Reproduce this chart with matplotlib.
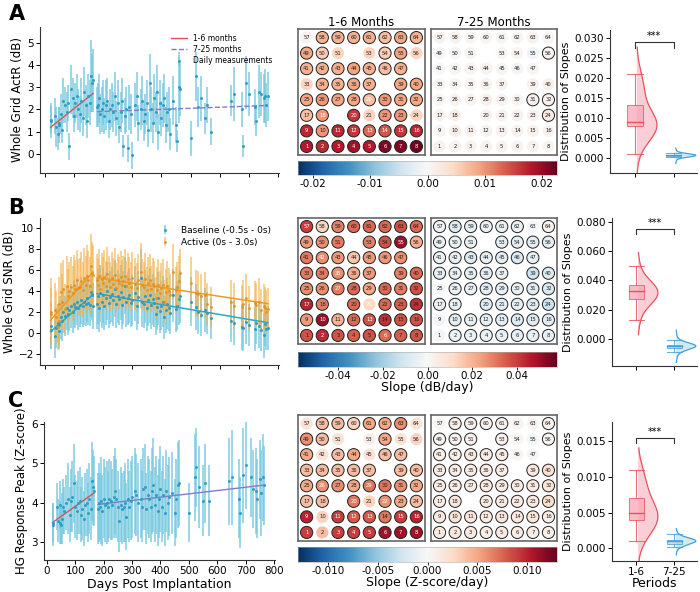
import numpy as np
import matplotlib
matplotlib.use("Agg")
import matplotlib.pyplot as plt
from matplotlib.patches import Circle, Rectangle
from matplotlib import cm, colors

# ---------------- data: daily measurements ----------------
days = [20, 22, 35, 40, 45, 48, 50, 55, 58, 62, 68, 75, 80, 85, 90, 96, 100, 105, 110, 115,
        120, 125, 130, 135, 140, 145, 150, 155, 160, 163, 166,
        180, 183, 187, 190, 195, 200, 205, 210, 215, 220, 225, 230, 235, 240, 245, 250, 255, 260,
        265, 270, 275, 280, 285, 290, 295, 300, 310, 315, 320, 330, 335, 340, 345, 350, 355, 360,
        365, 370, 375, 380, 385, 390, 395, 400, 405, 410, 415, 420, 425, 430, 440, 450, 455, 460, 465,
        500, 520, 525, 535, 550, 555, 570,
        640, 650, 675, 680, 690, 700, 720, 725, 735, 740, 750, 755, 760, 765]

actr_mean = [1.5, 1.55, 1.7, 1.2, 0.9, 1.4, 1.3, 1.8, 1.1, 2.4, 2.2, 1.9, 2.3, 0.35, 2.9, 2.5, 1.7, 2.3, 2.6, 2.0,
             1.8, 2.4, 1.6, 2.8, 2.2, 1.5, 2.6, 2.3, 3.5, 3.2, 3.3,
             2.1, 2.2, 2.5, 1.8, 2.0, 2.3, 1.7, 2.2, 2.4, 1.5, 2.0, 2.2, 1.9, 2.6, 1.6, 2.3, 1.2, 1.9, 2.4, 0.35,
             1.7, 2.0, 0.25, 2.1, 1.8, -0.05, 2.2, 2.6, 1.4, 2.0, 2.4, 1.5, 1.8, 2.3, 1.1, 3.2, 2.0, 1.4, 2.5, 1.9,
             2.8, 1.0, 2.3, 1.6, 2.2, 2.5, 1.3, 1.9, 2.0, 0.9, 2.4, 1.3, 0.6, 3.0, 2.9,
             0.7, 3.5, 2.1, 2.5, 1.6, 2.2, 1.0,
             2.4, 2.7, 2.0, 0.35, 3.2, 2.7, 2.1, 1.5, 2.8, 2.7, 2.5, 2.6, 2.2, 2.6]
actr_err = [0.8, 0.6, 0.8, 0.9, 0.7, 0.7, 0.8, 0.9, 0.6, 1.0, 0.8, 0.9, 0.8, 0.6, 1.1, 0.9, 0.7, 0.9, 1.0, 0.9,
            0.8, 1.0, 0.8, 1.1, 0.9, 0.8, 1.0, 1.0, 1.6, 1.3, 1.4,
            0.9, 1.0, 1.1, 0.9, 1.0, 1.0, 0.8, 1.1, 1.0, 0.8, 0.9, 1.0, 0.9, 1.1, 0.8, 1.0, 0.7, 0.9, 1.0, 0.5,
            0.8, 1.0, 0.6, 1.0, 0.9, 0.6, 1.0, 1.1, 0.8, 0.9, 1.1, 0.9, 0.9, 1.0, 0.8, 1.3, 1.0, 0.9, 1.1, 0.9,
            1.2, 0.8, 1.0, 0.8, 1.0, 1.1, 0.8, 0.9, 1.0, 0.7, 1.1, 0.8, 0.5, 1.6, 1.2,
            0.8, 1.1, 0.9, 1.0, 0.7, 0.8, 0.6,
            0.7, 1.2, 0.8, 0.5, 1.2, 1.0, 0.8, 0.7, 1.2, 1.0, 1.1, 1.2, 1.0, 1.1]

snr_base_mean = [0.7, 0.3, -0.3, 0.5, 1.0, 0.2, 0.8, 1.5, 1.2, 2.0, 1.6, 2.4, 1.8, 2.2, 2.6, 2.0, 2.8, 2.5, 3.0, 2.4,
                 2.7, 3.1, 2.6, 3.0, 2.8, 3.3, 2.9, 2.7, 3.9, 3.6, 2.6,
                 2.8, 3.5, 2.4, 3.8, 3.0, 3.6, 2.6, 3.3, 4.0, 2.9, 3.4, 3.7, 3.1, 4.2, 2.8, 3.5, 3.2, 3.9, 2.7, 3.4,
                 4.5, 3.0, 3.3, 3.6, 2.9, 3.1, 3.8, 2.6, 3.4, 5.2, 3.0, 2.8, 3.5, 2.4, 3.1, 3.6, 2.7, 3.2, 2.9, 1.8,
                 2.5, 3.3, 2.1, 2.6, 3.0, 1.5, 2.2, 2.8, 2.4, 1.9, 3.6, 2.3, 2.6, 3.2, 3.5,
                 3.0, 2.5, 2.0, 1.7, 2.2, 1.9, 1.4,
                 1.2, 1.0, 0.6, 0.5, 1.1, 0.8, 0.4, 1.0, 0.7, 0.3, -0.2, 0.9, 0.4, 0.5]
snr_base_err = [2.2, 1.8, 2.0, 1.9, 1.8, 1.7, 1.8, 2.0, 1.9, 2.0, 1.9, 2.1, 2.0, 2.0, 2.1, 2.0, 2.2, 2.0, 2.2, 2.1,
                2.1, 2.2, 2.0, 2.2, 2.1, 2.2, 2.1, 2.0, 2.4, 2.3, 2.2,
                2.4, 2.6, 2.3, 2.7, 2.5, 2.6, 2.3, 2.5, 2.7, 2.4, 2.5, 2.6, 2.4, 2.7, 2.3, 2.5, 2.4, 2.6, 2.3, 2.5,
                2.7, 2.4, 2.5, 2.6, 2.3, 2.4, 2.6, 2.3, 2.5, 2.8, 2.4, 2.3, 2.5, 2.2, 2.4, 2.6, 2.3, 2.4, 2.3, 2.0,
                2.2, 2.5, 2.1, 2.3, 2.4, 2.0, 2.2, 2.4, 2.2, 2.0, 2.5, 2.2, 2.3, 2.4, 2.5,
                2.3, 2.2, 2.1, 2.0, 2.1, 2.0, 1.9,
                2.0, 2.1, 2.2, 2.2, 2.1, 2.0, 2.1, 2.0, 2.1, 2.0, 2.1, 2.1, 2.0, 2.1]
snr_act_mean = [2.0, 1.8, 2.2, 1.5, 0.6, 2.8, 1.2, 3.9, 3.0, 4.2, 2.3, 4.5, 3.5, 4.0, 4.4, 3.8, 4.6, 4.2, 5.0, 4.3,
                4.4, 4.9, 4.1, 5.2, 4.6, 5.4, 5.0, 4.5, 6.4, 5.7, 5.5,
                5.0, 4.6, 5.4, 4.2, 5.1, 4.8, 5.3, 4.5, 5.6, 4.9, 4.4, 5.2, 4.7, 5.5, 4.3, 5.0, 4.8, 5.3, 4.6, 4.9,
                5.4, 4.5, 5.1, 4.8, 4.4, 5.2, 4.7, 4.3, 5.0, 5.8, 4.6, 4.4, 5.1, 4.1, 4.8, 5.0, 4.2, 4.7, 4.5, 3.3,
                4.1, 4.6, 3.8, 4.3, 4.6, 3.0, 3.9, 4.5, 4.0, 3.6, 5.8, 4.1, 4.4, 4.9, 5.7,
                4.8, 3.8, 3.7, 3.5, 3.6, 2.8, 2.5,
                3.0, 2.6, 2.5, 2.8, 3.3, 2.4, 2.9, 2.7, 3.0, 2.2, 2.6, 2.4, 2.0, 2.3]
snr_act_err = [3.2, 2.5, 2.6, 2.5, 2.2, 2.5, 2.3, 2.7, 2.6, 2.7, 2.4, 2.8, 2.6, 2.7, 2.8, 2.6, 2.8, 2.7, 2.9, 2.7,
               2.7, 2.8, 2.6, 2.9, 2.7, 2.9, 2.8, 2.7, 3.0, 2.9, 2.8,
               2.5, 2.4, 2.6, 2.3, 2.5, 2.4, 2.6, 2.3, 2.6, 2.4, 2.3, 2.5, 2.4, 2.6, 2.3, 2.5, 2.4, 2.5, 2.3, 2.4,
               2.6, 2.3, 2.5, 2.4, 2.3, 2.5, 2.4, 2.3, 2.5, 2.7, 2.4, 2.3, 2.5, 2.2, 2.4, 2.5, 2.2, 2.4, 2.3, 2.0,
               2.2, 2.4, 2.1, 2.3, 2.4, 2.0, 2.2, 2.3, 2.2, 2.0, 2.6, 2.2, 2.3, 2.4, 2.3,
               2.4, 2.2, 2.2, 2.1, 2.2, 2.0, 1.9,
               2.0, 2.2, 2.1, 2.2, 2.3, 2.1, 2.0, 2.1, 2.2, 2.0, 2.1, 2.0, 2.1, 2.0]

hg_mean = [3.5, 3.45, 3.9, 3.55, 3.95, 3.5, 3.45, 3.6, 3.9, 3.8, 4.0, 4.1, 3.7, 4.05, 4.15, 4.5, 3.9, 3.8, 4.0, 4.05,
           3.7, 3.85, 3.6, 3.95, 4.0, 3.75, 4.1, 3.85, 4.55, 4.4, 4.3,
           3.85, 4.0, 3.9, 4.05, 3.8, 4.1, 3.95, 4.0, 3.9, 4.1, 4.05, 3.95, 4.15, 4.3, 4.1, 3.9, 3.55, 3.95, 3.85, 3.9,
           4.0, 3.65, 4.1, 3.9, 4.05, 4.15, 4.3, 4.2, 4.0, 4.1, 3.9, 4.35, 4.4, 3.85, 4.2, 4.1, 3.9, 4.3, 4.45, 3.95,
           4.2, 3.8, 4.1, 4.35, 3.9, 4.2, 3.75, 4.3, 4.0, 4.15, 4.25, 3.75, 4.1, 4.45, 4.5,
           3.75, 4.65, 4.9, 4.4, 4.05, 4.5, 4.05,
           4.55, 4.65, 4.1, 3.75, 4.7, 4.95, 4.65, 4.35, 4.3, 4.1, 4.6, 4.25, 4.65, 4.45]
hg_err = [0.5, 0.55, 0.6, 0.55, 0.6, 0.55, 0.5, 0.65, 0.7, 0.6, 0.7, 0.9, 0.7, 0.8, 0.9, 1.0, 0.8, 0.75, 0.8, 0.85,
          0.7, 0.8, 0.7, 0.8, 0.85, 0.75, 0.9, 0.8, 1.0, 0.95, 0.9,
          0.9, 1.0, 0.85, 1.1, 0.9, 1.0, 0.95, 1.05, 0.9, 1.0, 1.0, 0.9, 1.05, 1.1, 1.0, 0.9, 0.8, 0.95, 0.9, 0.9,
          1.0, 0.85, 1.0, 0.9, 1.0, 1.05, 1.1, 1.05, 1.0, 1.0, 0.9, 1.05, 1.1, 0.9, 1.0, 1.0, 0.9, 1.1, 1.2, 0.95,
          1.0, 0.9, 1.0, 1.1, 0.9, 1.0, 0.85, 1.05, 0.95, 1.0, 1.05, 0.85, 1.0, 1.1, 1.1,
          0.75, 1.1, 1.0, 1.05, 0.9, 1.0, 0.9,
          1.1, 1.2, 1.0, 0.9, 1.2, 1.1, 1.0, 1.0, 1.1, 1.0, 1.0, 1.1, 1.1, 1.0]

# regression line endpoints (days, values)
fit_days_early = [20, 166]
fit_days_late = [180, 765]
actr_fit_early = [1.2, 2.72]
actr_fit_late = [1.9, 2.18]
snr_base_fit_early = [0.15, 3.68]
snr_base_fit_late = [3.75, 1.0]
snr_act_fit_early = [1.25, 5.8]
snr_act_fit_late = [5.25, 2.8]
hg_fit_early = [3.5, 4.25]
hg_fit_late = [3.96, 4.45]

# ---------------- data: electrode slopes (electrodes 1..64, None = missing) ----------------
actr_slope_early = [0.018, 0.017, 0.018, 0.019, 0.018, 0.021, 0.021, 0.022,
                    0.017, 0.010, 0.017, 0.016, 0.013, 0.014, 0.016, 0.017,
                    0.007, 0.010, None, 0.016, 0.005, 0.010, 0.010, 0.005,
                    0.009, 0.010, 0.009, 0.009, 0.007, 0.010, 0.009, 0.009,
                    0.005, 0.008, 0.008, 0.009, 0.008, None, 0.009, 0.009,
                    0.008, 0.008, 0.008, 0.009, 0.008, 0.007, 0.008, None,
                    0.009, 0.006, 0.005, None, 0.005, 0.006, 0.009, 0.005,
                    0.001, 0.008, 0.008, 0.008, 0.008, 0.007, 0.009, 0.008]
actr_slope_late = [0.0008, 0.0010, 0.0008, 0.0008, 0.0008, 0.0008, 0.0008, 0.0005,
                   0.0005, 0.0015, 0.0010, 0.0008, 0.0010, 0.0008, 0.0012, 0.0008,
                   0.0008, 0.0015, None, 0.0008, 0.0008, 0.0008, 0.0010, 0.0020,
                   0.0005, 0.0008, 0.0008, 0.0012, 0.0008, 0.0005, 0.0008, 0.0010,
                   0.0005, 0.0005, 0.0005, 0.0008, 0.0008, None, 0.0010, 0.0012,
                   -0.0003, 0.0002, 0.0005, 0.0008, 0.0003, 0.0003, 0.0002, None,
                   0.0003, 0.0003, 0.0002, None, 0.0003, 0.0005, -0.0008, 0.0005,
                   0.0008, 0.0010, 0.0005, 0.0003, 0.0003, 0.0003, 0.0008, 0.0005]
snr_slope_early = [0.037, 0.043, 0.037, 0.035, 0.037, 0.033, 0.035, 0.037,
                   0.025, 0.050, 0.020, 0.033, 0.037, 0.042, 0.037, 0.037,
                   0.044, 0.030, None, 0.033, 0.012, 0.033, 0.035, 0.042,
                   0.027, 0.027, 0.030, 0.033, 0.023, 0.033, 0.030, 0.037,
                   0.030, 0.030, 0.027, 0.022, 0.025, None, 0.029, 0.033,
                   0.030, 0.027, 0.025, 0.016, 0.025, 0.025, 0.027, None,
                   0.025, 0.027, 0.030, None, 0.029, 0.037, 0.050, 0.021,
                   0.040, 0.013, 0.029, 0.033, 0.033, 0.033, 0.037, 0.033]
snr_slope_late = [-0.001, -0.004, -0.004, -0.004, -0.004, -0.005, -0.005, -0.005,
                  -0.001, -0.006, -0.004, -0.005, -0.006, -0.008, -0.007, -0.006,
                  -0.004, -0.004, None, -0.007, -0.006, -0.005, -0.007, -0.013,
                  -0.001, -0.004, -0.004, -0.006, -0.005, -0.004, -0.007, -0.009,
                  -0.005, -0.005, -0.005, -0.006, -0.004, None, -0.012, -0.008,
                  -0.003, -0.005, -0.008, -0.005, -0.006, -0.009, -0.005, None,
                  -0.003, -0.004, -0.004, None, -0.005, -0.006, -0.006, -0.005,
                  -0.003, -0.008, -0.005, -0.004, -0.004, -0.004, -0.001, 0.003]
hg_slope_early = [0.009, 0.004, 0.009, 0.009, 0.009, 0.011, 0.011, 0.011,
                  0.010, 0.003, 0.009, 0.008, 0.008, 0.007, 0.009, 0.010,
                  0.004, 0.004, None, 0.007, 0.003, 0.006, 0.005, 0.004,
                  0.005, 0.006, 0.006, 0.005, 0.007, 0.007, 0.006, 0.005,
                  0.004, 0.004, 0.004, 0.004, 0.004, None, 0.004, 0.004,
                  0.005, 0.002, 0.004, 0.005, 0.002, 0.004, 0.004, None,
                  0.006, 0.004, 0.002, None, 0.001, 0.005, 0.002, 0.003,
                  0.002, 0.004, 0.004, 0.003, 0.005, 0.005, 0.006, 0.002]
hg_slope_late = [0.0012, 0.0015, 0.0012, 0.0010, 0.0012, 0.0010, 0.0010, 0.0010,
                 0.0012, 0.0018, 0.0015, 0.0012, 0.0015, 0.0012, 0.0015, 0.0010,
                 0.0010, 0.0015, None, 0.0010, 0.0010, 0.0010, 0.0012, 0.0022,
                 0.0010, 0.0010, 0.0010, 0.0012, 0.0010, 0.0010, 0.0012, 0.0015,
                 0.0010, 0.0010, 0.0010, 0.0010, 0.0008, None, 0.0012, 0.0020,
                 0.0008, 0.0010, 0.0012, 0.0010, 0.0008, 0.0003, 0.0002, None,
                 0.0005, 0.0006, 0.0006, None, 0.0006, 0.0003, -0.0004, 0.0003,
                 0.0003, 0.0008, 0.0006, 0.0005, 0.0006, 0.0004, 0.0004, 0.0006]

# electrodes drawn without outline (non-significant) / with white labels
actr_early_unmarked = [57, 51, 53, 56, 33, 21, 24]
actr_late_marked = [56, 31, 32, 24]
snr_early_unmarked = [21]
snr_late_unmarked = [63, 25, 9, 1]
hg_early_unmarked = [57, 64, 51, 53, 55, 56, 42, 45, 21, 10, 2]
hg_late_unmarked = [57, 62, 63, 54, 55, 46, 47]
actr_white = [1, 2, 3, 4, 5, 6, 7, 8, 9, 11, 12, 13, 14, 15, 16, 18, 20, 29]
snr_white = [57, 55, 42, 35, 27, 17, 10, 13, 2, 21, 6]
hg_white = [1, 3, 4, 5, 6, 7, 8, 9, 11, 12, 13, 15, 16, 20, 22, 26, 29]

period_labels = ["1-6", "7-25"]
cbar_limits = [0.0226, 0.0578, 0.013]

# ---------------- figure ----------------
fig = plt.figure(figsize=(7, 5.92), dpi=100)
W, H = 700.0, 592.0


def fax(x0, y0, x1, y1):
    return fig.add_axes([x0 / W, 1 - y1 / H, (x1 - x0) / W, (y1 - y0) / H])


BAR = "#74c7de"
DOT = "#2a9ec4"
ORANGE_BAR = "#f3b04a"
ORANGE_DOT = "#e8901a"
RED = "#e0505a"
PURPLE = "#8878c8"


def style_ts(ax):
    for s in ["top", "right"]:
        ax.spines[s].set_visible(False)
    for s in ["left", "bottom"]:
        ax.spines[s].set_color("#333333")
        ax.spines[s].set_linewidth(0.8)
    ax.tick_params(labelsize=7.5, length=3, width=0.7, pad=1.5)
    ax.set_xticks(range(0, 801, 100))


# --- Panel A time series
axA = fax(40, 27, 279, 173)
axA.errorbar(days, actr_mean, yerr=actr_err, fmt="o", ms=1.2, color=DOT, ecolor=BAR,
             elinewidth=1.1, alpha=0.9, capsize=0, label="Daily measurements")
axA.plot(fit_days_early, actr_fit_early, color=RED, lw=1.0, label="1-6 months")
axA.plot(fit_days_late, actr_fit_late, color=PURPLE, lw=1.0, ls="--", label="7-25 months")
axA.set_xlim(-16, 803)
axA.set_ylim(-0.85, 5.7)
axA.set_yticks(range(0, 6))
style_ts(axA)
axA.set_xticklabels([])
axA.set_ylabel("Whole Grid ActR (dB)", fontsize=8.5, labelpad=2)
h, l = axA.get_legend_handles_labels()
order = [l.index("1-6 months"), l.index("7-25 months"), l.index("Daily measurements")]
axA.legend([h[i] for i in order], [l[i] for i in order], loc="upper right", frameon=False,
           fontsize=5.5, bbox_to_anchor=(1.0, 1.0), handlelength=2.0, labelspacing=0.3)

# --- Panel B time series
axB = fax(40, 218, 279, 365)
axB.errorbar(days, snr_base_mean, yerr=snr_base_err, fmt="o", ms=1.2, color=DOT, ecolor=BAR,
             elinewidth=1.1, alpha=0.9, capsize=0, label="Baseline (-0.5s - 0s)")
axB.errorbar(days, snr_act_mean, yerr=snr_act_err, fmt="o", ms=1.2, color=ORANGE_DOT, ecolor=ORANGE_BAR,
             elinewidth=1.1, alpha=0.75, capsize=0, label="Active (0s - 3.0s)")
axB.plot(fit_days_early, snr_base_fit_early, color="#2aa8cc", lw=1.1)
axB.plot(fit_days_late, snr_base_fit_late, color="#2aa8cc", lw=1.1)
axB.plot(fit_days_early, snr_act_fit_early, color="#f09a20", lw=1.1)
axB.plot(fit_days_late, snr_act_fit_late, color="#f09a20", lw=1.1)
axB.set_xlim(-16, 803)
axB.set_ylim(-3.0, 10.9)
axB.set_yticks(range(-2, 11, 2))
style_ts(axB)
axB.set_xticklabels([])
axB.set_ylabel("Whole Grid SNR (dB)", fontsize=8.5, labelpad=2)
axB.legend(loc="upper right", frameon=False, fontsize=6.5, bbox_to_anchor=(1.0, 1.0),
           labelspacing=0.3)

# --- Panel C time series
axC = fax(44, 422, 275, 560)
axC.errorbar(days, hg_mean, yerr=hg_err, fmt="o", ms=1.2, color=DOT, ecolor=BAR,
             elinewidth=1.1, alpha=0.9, capsize=0)
axC.plot(fit_days_early, hg_fit_early, color=RED, lw=1.0)
axC.plot(fit_days_late, hg_fit_late, color=PURPLE, lw=1.0)
axC.set_xlim(-10, 803)
axC.set_ylim(2.55, 6.05)
axC.set_yticks([3, 4, 5, 6])
style_ts(axC)
axC.set_xlabel("Days Post Implantation", fontsize=9, labelpad=1)
axC.set_ylabel("HG Response Peak (Z-score)", fontsize=8.5, labelpad=2)

# --- heatmaps
cmap = plt.get_cmap("RdBu_r")


def grid(ax, vals, vmax, marked, white):
    norm = colors.Normalize(-vmax, vmax)
    ax.set_xlim(0.45, 8.55)
    ax.set_ylim(0.45, 8.55)
    for i, v in enumerate(vals):
        if v is None:
            continue
        n = i + 1
        x = i % 8 + 1
        y = i // 8 + 1
        ax.add_patch(Circle((x, y), 0.39, facecolor=cmap(norm(v)),
                            edgecolor="#222222" if n in marked else "none", lw=0.7))
        ax.text(x, y, str(n), ha="center", va="center", fontsize=3.8,
                color="white" if n in white else "#222222")
    ax.set_xticks([])
    ax.set_yticks([])
    for s in ax.spines.values():
        s.set_color("#666666")
        s.set_linewidth(1.2)
    return norm


all_e = list(range(1, 65))
rows = [
    (29, 155, 161, 175, actr_slope_early, actr_slope_late,
     [e for e in all_e if e not in actr_early_unmarked], actr_late_marked,
     actr_white, [], cbar_limits[0], [-0.02, -0.01, 0.0, 0.01, 0.02], "%.2f", None),
    (218, 344, 352, 367, snr_slope_early, snr_slope_late,
     [e for e in all_e if e not in snr_early_unmarked], [e for e in all_e if e not in snr_late_unmarked],
     snr_white, [], cbar_limits[1], [-0.04, -0.02, 0.0, 0.02, 0.04], "%.2f", "Slope (dB/day)"),
    (415, 541, 547, 562, hg_slope_early, hg_slope_late,
     [e for e in all_e if e not in hg_early_unmarked], [e for e in all_e if e not in hg_late_unmarked],
     hg_white, [], cbar_limits[2], [-0.010, -0.005, 0.0, 0.005, 0.010], "%.3f", "Slope (Z-score/day)"),
]
for k, (gy0, gy1, cy0, cy1, ve, vl, me, ml, we, wl, vmax, cticks, cfmt, clabel) in enumerate(rows):
    a1 = fax(298, gy0, 425, gy1)
    a2 = fax(431, gy0, 557, gy1)
    norm = grid(a1, ve, vmax, me, we)
    grid(a2, vl, vmax, ml, wl)
    if k == 0:
        a1.set_title("1-6 Months", fontsize=8.5, pad=2)
        a2.set_title("7-25 Months", fontsize=8.5, pad=2)
    cax = fax(298, cy0, 557, cy1)
    cb = fig.colorbar(cm.ScalarMappable(norm=norm, cmap=cmap), cax=cax, orientation="horizontal")
    cb.set_ticks(cticks)
    cb.ax.xaxis.set_major_formatter(matplotlib.ticker.FormatStrFormatter(cfmt))
    cb.ax.tick_params(labelsize=7.5, length=2, width=0.6, pad=1)
    cb.outline.set_linewidth(0.4)
    cb.outline.set_edgecolor("#aaaaaa")
    if clabel:
        cb.set_label(clabel, fontsize=9, labelpad=0)

# --- raincloud panels
PINK_F, PINK_E = "#f7a6b6", "#e8505c"
BLUE_F, BLUE_E = "#a6dbe9", "#4a9ed6"


def raincloud(ax, vals, pos, face, edge):
    v = np.array([x for x in vals if x is not None], dtype=float)
    q1, med, q3 = np.percentile(v, [25, 50, 75])
    iqr = q3 - q1
    lo = v[v >= q1 - 1.5 * iqr].min()
    hi = v[v <= q3 + 1.5 * iqr].max()
    ax.plot([pos, pos], [lo, q1], color=edge, lw=0.8, alpha=0.8, zorder=2)
    ax.plot([pos, pos], [q3, hi], color=edge, lw=0.8, alpha=0.8, zorder=2)
    ax.plot([pos - 0.2, pos + 0.2], [lo, lo], color=edge, lw=0.8, alpha=0.8, zorder=2)
    ax.plot([pos - 0.2, pos + 0.2], [hi, hi], color=edge, lw=0.8, alpha=0.8, zorder=2)
    bw = 1.7 * v.std(ddof=1) * len(v) ** (-0.2)
    yy = np.linspace(v.min() - 1.6 * bw, v.max() + 1.6 * bw, 300)
    dens = np.exp(-0.5 * ((yy[:, None] - v[None, :]) / bw) ** 2).sum(axis=1)
    wdt = dens / dens.max() * 0.52
    base = pos + 0.05
    ax.fill_betweenx(yy, base, base + wdt, facecolor=face, alpha=0.55, lw=0, zorder=1)
    ax.plot(base + wdt, yy, color=edge, lw=0.9, zorder=3)
    ax.add_patch(Rectangle((pos - 0.2, q1), 0.4, q3 - q1, facecolor=face, edgecolor=edge,
                           alpha=0.75, lw=0.7, zorder=4))
    ax.plot([pos - 0.2, pos + 0.2], [med, med], color=edge, lw=1.0, zorder=5)


right = [
    (30, 173, 610, actr_slope_early, actr_slope_late, (-0.0037, 0.032), np.arange(0, 0.0301, 0.005), 0.029),
    (218, 366, 612, snr_slope_early, snr_slope_late, (-0.0185, 0.0827), np.arange(0, 0.0801, 0.02), 0.0755),
    (422, 561, 612, hg_slope_early, hg_slope_late, (-0.0018, 0.0177), np.arange(0, 0.0151, 0.005), 0.0155),
]
for k, (ry0, ry1, rx0, ve, vl, ylim, yt, sig_y) in enumerate(right):
    ax = fax(rx0, ry0, 697, ry1)
    raincloud(ax, ve, 0, PINK_F, PINK_E)
    raincloud(ax, vl, 1, BLUE_F, BLUE_E)
    ax.set_xlim(-0.64, 1.6)
    ax.set_ylim(*ylim)
    ax.set_yticks(yt)
    ax.yaxis.set_major_formatter(matplotlib.ticker.FormatStrFormatter("%.3f"))
    ax.set_xticks([0, 1])
    for s in ["top", "right"]:
        ax.spines[s].set_visible(False)
    for s in ["left", "bottom"]:
        ax.spines[s].set_color("#333333")
        ax.spines[s].set_linewidth(0.8)
    ax.tick_params(labelsize=7.5, length=3, width=0.7, pad=1.5)
    ax.set_ylabel("Distribution of Slopes", fontsize=8, labelpad=2)
    tick = (ylim[1] - ylim[0]) * 0.04
    ax.plot([0, 0, 1, 1], [sig_y - tick, sig_y, sig_y, sig_y - tick], color="#333333", lw=0.8)
    ax.text(0.5, sig_y + tick * 0.1, "***", ha="center", va="bottom", fontsize=7)
    if k == 2:
        ax.set_xticklabels(period_labels)
        ax.set_xlabel("Periods", fontsize=9, labelpad=0)
    else:
        ax.set_xticklabels([])

# panel letters
fig.text(0.012, 0.976, "A", fontsize=15, fontweight="bold", va="center")
fig.text(0.012, 0.649, "B", fontsize=15, fontweight="bold", va="center")
fig.text(0.012, 0.323, "C", fontsize=15, fontweight="bold", va="center")

fig.savefig("out.png", dpi=100)
